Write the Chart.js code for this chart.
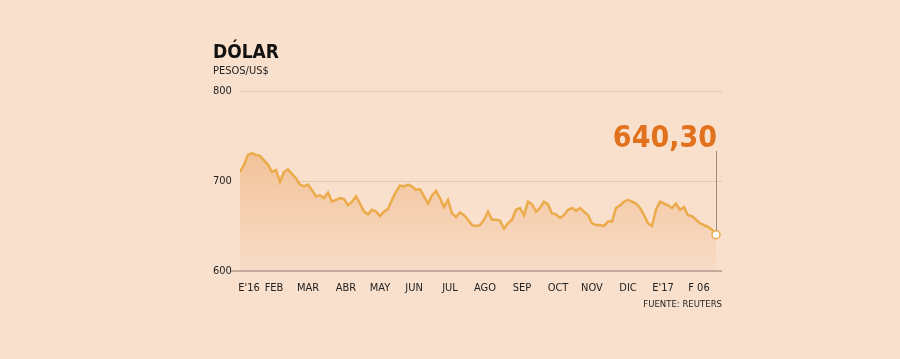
<!DOCTYPE html>
<html>
<head>
<meta charset="utf-8">
<script src="https://cdn.jsdelivr.net/npm/chart.js@4/dist/chart.umd.min.js"></script>
<style>
    body { margin: 0; background: #f9e0cd; font-family: "DejaVu Sans Condensed", "DejaVu Sans", sans-serif; }
    #wrap { position: relative; width: 900px; height: 359px; }
    #chart { position: absolute; left: 0; top: 0; }
    .title { position: absolute; left: 213px; top: 40px; font-size: 19px; font-weight: bold; color: #111; }
    .sub { position: absolute; left: 213px; top: 64px; font-size: 11px; color: #222; }
    .source { position: absolute; right: 178px; top: 298px; font-size: 9.5px; color: #222; }
</style>
</head>
<body>
<div id="wrap">
    <canvas id="chart" width="900" height="359"></canvas>
    <div class="title">DÓLAR</div>
    <div class="sub">PESOS/US$</div>
    <div class="source">FUENTE: REUTERS</div>
</div>
<script>
const dolarValues = [
    710, 718, 729, 731, 729, 728, 723, 718, 710, 712,
    699, 710, 713, 708, 703, 696, 694, 696, 690, 683,
    684, 681, 687, 677, 679, 681, 680, 673, 677, 683,
    675, 666, 663, 668, 666, 661, 666, 669, 679, 688,
    695, 694, 696, 694, 690, 691, 683, 675, 684, 689,
    681, 671, 679, 664, 660, 665, 662, 657, 651, 650,
    651, 657, 666, 657, 657, 656, 647, 653, 657, 668,
    670, 662, 677, 674, 666, 670, 677, 674, 664, 663,
    659, 662, 668, 670, 667, 670, 666, 662, 653, 651,
    651, 650, 655, 655, 670, 673, 677, 679, 677, 675,
    670, 662, 653, 650, 668, 677, 675, 673, 670, 675,
    668, 671, 662, 661, 657, 653, 651, 649, 646, 640.30
];
const monthLabels = ["E'16", 'FEB', 'MAR', 'ABR', 'MAY', 'JUN', 'JUL', 'AGO', 'SEP', 'OCT', 'NOV', 'DIC', "E'17", 'F 06'];
const monthTickPos = [2.25, 8.5, 17, 26.5, 35, 43.5, 52.5, 61.25, 70.5, 79.5, 88, 97, 105.75, 114.75];
const yTicks = [600, 700, 800];

const lastIdx = dolarValues.length - 1;
const lineColor = '#ecab4b';

// eje base, etiqueta con el último valor y la línea vertical
const lastValuePlugin = {
    id: 'lastValue',
    afterDatasetsDraw(chart) {
        const { ctx, scales, chartArea } = chart;
        const baseLine = Math.round(scales.y.getPixelForValue(yTicks[0]));
        ctx.save();
        ctx.strokeStyle = '#c2ab9a';
        ctx.lineWidth = 2;
        ctx.beginPath();
        ctx.moveTo(chartArea.left - 9, baseLine);
        ctx.lineTo(chartArea.right, baseLine);
        ctx.stroke();
        ctx.restore();

        const x = scales.x.getPixelForValue(lastIdx);
        const y = scales.y.getPixelForValue(dolarValues[lastIdx]);
        const baseY = chartArea.top + 56;
        ctx.save();
        ctx.strokeStyle = '#9c8a7e';
        ctx.lineWidth = 1;
        ctx.beginPath();
        ctx.moveTo(x + 0.5, baseY + 4);
        ctx.lineTo(x + 0.5, y - 4);
        ctx.stroke();
        ctx.fillStyle = '#e2711d';
        ctx.font = 'bold 30px "DejaVu Sans Condensed", "DejaVu Sans", sans-serif';
        ctx.textAlign = 'right';
        ctx.textBaseline = 'alphabetic';
        ctx.fillText(dolarValues[lastIdx].toFixed(2).replace('.', ','), x + 1, baseY);
        ctx.restore();
    }
};

const ctx = document.getElementById('chart').getContext('2d');

new Chart(ctx, {
    type: 'line',
    data: {
        datasets: [{
            data: dolarValues.map((v, i) => ({ x: i, y: v })),
            borderColor: lineColor,
            borderWidth: 2.5,
            tension: 0,
            fill: 'start',
            backgroundColor: (c) => {
                const area = c.chart.chartArea;
                if (!area) return '#f3c9a2';
                const g = c.chart.ctx.createLinearGradient(0, area.top + 55, 0, area.bottom);
                g.addColorStop(0, '#f2c197');
                g.addColorStop(1, '#f8dcc7');
                return g;
            },
            pointRadius: (c) => c.dataIndex === lastIdx ? 4 : 0,
            pointBackgroundColor: '#ffffff',
            pointBorderColor: lineColor,
            pointBorderWidth: 1.5,
            pointHoverRadius: 0
        }]
    },
    options: {
        responsive: false,
        animation: false,
        layout: { padding: { left: 213, top: 91, right: 178, bottom: 58 } },
        plugins: { legend: { display: false }, tooltip: { enabled: false } },
        scales: {
            x: {
                type: 'linear',
                min: 0,
                max: 120.5,
                afterBuildTicks: (s) => { s.ticks = monthTickPos.map(v => ({ value: v })); },
                afterFit: (s) => { s.height = 30; },
                grid: { display: false },
                border: { display: false },
                ticks: {
                    autoSkip: false,
                    maxRotation: 0,
                    padding: 3,
                    color: '#222',
                    font: { family: '"DejaVu Sans Condensed", "DejaVu Sans", sans-serif', size: 11 },
                    callback: (v, i) => monthLabels[i]
                }
            },
            y: {
                min: 600,
                max: 800,
                afterBuildTicks: (s) => { s.ticks = yTicks.map(v => ({ value: v })); },
                afterFit: (s) => { s.width = 27; },
                border: { display: false },
                grid: {
                    color: (c) => c.tick && c.tick.value === 600 ? 'rgba(0,0,0,0)' : '#e3c9b5',
                    lineWidth: 1,
                    tickLength: 9,
                    tickColor: 'rgba(0,0,0,0)'
                },
                ticks: {
                    crossAlign: 'far',
                    padding: 2,
                    color: '#222',
                    font: { family: '"DejaVu Sans Condensed", "DejaVu Sans", sans-serif', size: 11 }
                }
            }
        }
    },
    plugins: [lastValuePlugin]
});
</script>
</body>
</html>
